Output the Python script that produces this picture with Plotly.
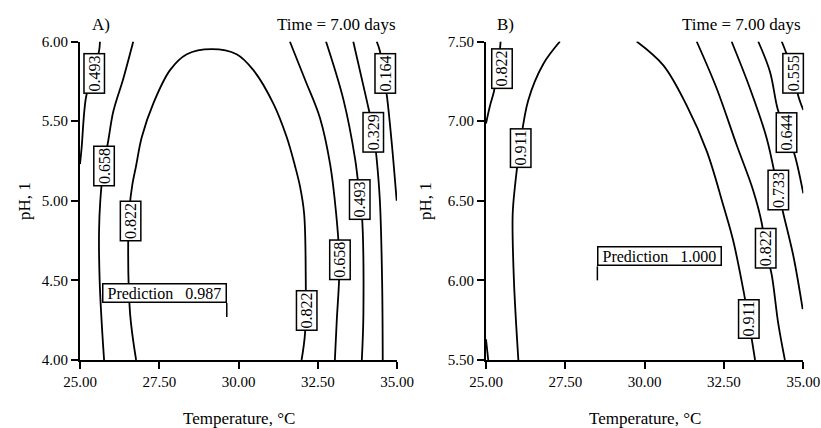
import plotly.graph_objects as go

FONT = "Liberation Serif"

# ---------------- Panel A (pH 4.00-6.00) contour lines: Temperature, pH ----------------
A_0493L_T = [25.63, 25.60, 25.40, 25.19, 25.05, 25.00]
A_0493L_pH = [6.00, 5.94, 5.80, 5.65, 5.33, 5.23]

A_0658L_T = [26.68, 26.37, 26.05, 25.89, 25.75, 25.64, 25.60, 25.62, 25.68, 25.76]
A_0658L_pH = [6.00, 5.77, 5.56, 5.375, 5.22, 5.00, 4.80, 4.50, 4.25, 4.00]

A_0822_T = [26.77, 26.58, 26.52, 26.56, 26.65, 26.77, 26.95, 27.31, 27.84, 28.37, 29.15,
            29.94, 30.47, 31.10, 31.52, 31.78, 31.94, 32.07, 32.12, 32.10, 31.99]
A_0822_pH = [4.00, 4.29, 4.73, 4.95, 5.10, 5.22, 5.40, 5.61, 5.82, 5.92, 5.952,
             5.92, 5.82, 5.61, 5.40, 5.22, 5.09, 4.92, 4.55, 4.17, 4.00]

A_0658R_T = [31.62, 32.10, 32.57, 32.89, 33.08, 33.18, 33.17, 33.10, 33.04]
A_0658R_pH = [6.00, 5.76, 5.52, 5.23, 4.92, 4.64, 4.49, 4.25, 4.00]

A_0493R_T = [32.76, 33.31, 33.68, 33.83, 33.89, 33.94, 33.89]
A_0493R_pH = [6.00, 5.635, 5.26, 5.01, 4.92, 4.29, 4.00]

A_0329_T = [33.62, 34.04, 34.26, 34.36, 34.46, 34.53, 34.55]
A_0329_pH = [6.00, 5.635, 5.43, 5.26, 5.00, 4.50, 4.00]

A_0164_T = [34.36, 34.46, 34.57, 34.68, 34.84, 34.99]
A_0164_pH = [6.00, 5.94, 5.80, 5.66, 5.35, 5.00]

A_lab_text = ["0.493", "0.658", "0.822", "0.822", "0.658", "0.493", "0.329", "0.164"]
A_lab_T = [25.46, 25.75, 26.61, 32.14, 33.19, 33.83, 34.26, 34.64]
A_lab_pH = [5.80, 5.22, 4.87, 4.31, 4.63, 5.01, 5.43, 5.80]

A_pred_T = 29.63
A_pred_pH = 4.27
A_pred_val = "0.987"

# ---------------- Panel B (pH 5.50-7.50) contour lines ----------------
B_0822L_T = [25.46, 25.40, 25.25, 25.13, 25.00]
B_0822L_pH = [7.50, 7.37, 7.186, 7.10, 6.985]

B_0822Lb_T = [25.00, 25.07]
B_0822Lb_pH = [5.63, 5.50]

B_0911L_T = [27.33, 26.81, 26.33, 26.07, 25.91, 25.84, 25.88, 26.02]
B_0911L_pH = [7.50, 7.36, 7.13, 6.84, 6.585, 6.41, 6.00, 5.50]

B_0911R_T = [29.75, 30.59, 31.32, 31.96, 32.48, 32.79, 33.11, 33.27, 33.48]
B_0911R_pH = [7.50, 7.35, 7.10, 6.81, 6.47, 6.25, 5.94, 5.76, 5.50]

B_0822R_T = [31.64, 32.27, 32.90, 33.42, 33.69, 33.80, 34.00, 34.21, 34.42]
B_0822R_pH = [7.50, 7.205, 6.85, 6.565, 6.36, 6.20, 6.04, 5.73, 5.50]

B_0733_T = [32.74, 33.32, 33.85, 34.20, 34.37, 34.69, 34.98]
B_0733_pH = [7.50, 7.205, 6.89, 6.57, 6.42, 6.15, 5.82]

B_0644_T = [33.58, 33.95, 34.20, 34.48, 34.74, 35.00]
B_0644_pH = [7.50, 7.31, 7.07, 6.93, 6.78, 6.546]

B_0555_T = [34.32, 34.43, 34.69, 34.84, 35.00]
B_0555_pH = [7.50, 7.445, 7.30, 7.16, 7.07]

B_lab_text = ["0.822", "0.911", "0.911", "0.822", "0.733", "0.644", "0.555"]
B_lab_T = [25.49, 26.10, 33.27, 33.80, 34.20, 34.48, 34.69]
B_lab_pH = [7.33, 6.83, 5.76, 6.20, 6.57, 6.93, 7.30]

B_pred_T = 28.51
B_pred_pH = 6.00
B_pred_val = "1.000"

# Axes ticks
temp_ticks = [25.0, 27.5, 30.0, 32.5, 35.0]
A_pH_ticks = [4.0, 4.5, 5.0, 5.5, 6.0]
B_pH_ticks = [5.5, 6.0, 6.5, 7.0, 7.5]

title_x = "Temperature, °C"
title_y = "pH, 1"
time_label = "Time = 7.00 days"

fig = go.Figure()

A_lines = [(A_0493L_T, A_0493L_pH), (A_0658L_T, A_0658L_pH), (A_0822_T, A_0822_pH),
           (A_0658R_T, A_0658R_pH), (A_0493R_T, A_0493R_pH), (A_0329_T, A_0329_pH),
           (A_0164_T, A_0164_pH)]
B_lines = [(B_0822L_T, B_0822L_pH), (B_0822Lb_T, B_0822Lb_pH), (B_0911L_T, B_0911L_pH),
           (B_0911R_T, B_0911R_pH), (B_0822R_T, B_0822R_pH), (B_0733_T, B_0733_pH),
           (B_0644_T, B_0644_pH), (B_0555_T, B_0555_pH)]

for xs, ys in A_lines:
    fig.add_trace(go.Scatter(x=xs, y=ys, mode="lines", xaxis="x", yaxis="y",
                             line=dict(color="black", width=1.8, shape="spline", smoothing=1.0),
                             showlegend=False, hoverinfo="skip"))
for xs, ys in B_lines:
    fig.add_trace(go.Scatter(x=xs, y=ys, mode="lines", xaxis="x2", yaxis="y2",
                             line=dict(color="black", width=1.8, shape="spline", smoothing=1.0),
                             showlegend=False, hoverinfo="skip"))

annotations = []
for t, xv, yv in zip(A_lab_text, A_lab_T, A_lab_pH):
    annotations.append(dict(x=xv, y=yv, xref="x", yref="y", text=t, showarrow=False,
                            textangle=-90, bgcolor="white", bordercolor="black",
                            borderwidth=1.5, borderpad=1,
                            font=dict(family=FONT, size=16, color="black")))
for t, xv, yv in zip(B_lab_text, B_lab_T, B_lab_pH):
    annotations.append(dict(x=xv, y=yv, xref="x2", yref="y2", text=t, showarrow=False,
                            textangle=-90, bgcolor="white", bordercolor="black",
                            borderwidth=1.5, borderpad=1,
                            font=dict(family=FONT, size=16, color="black")))

POLE = 14
annotations.append(dict(x=A_pred_T, y=A_pred_pH, xref="x", yref="y",
                        text=" Prediction&nbsp;&nbsp;&nbsp;" + A_pred_val + " ", showarrow=False,
                        xanchor="right", yanchor="bottom", yshift=POLE,
                        bgcolor="white", bordercolor="black", borderwidth=1.5, borderpad=0,
                        font=dict(family=FONT, size=16, color="black")))
annotations.append(dict(x=B_pred_T, y=B_pred_pH, xref="x2", yref="y2",
                        text=" Prediction&nbsp;&nbsp;&nbsp;" + B_pred_val + " ", showarrow=False,
                        xanchor="left", yanchor="bottom", yshift=POLE,
                        bgcolor="white", bordercolor="black", borderwidth=1.5, borderpad=0,
                        font=dict(family=FONT, size=16, color="black")))

shapes = [
    dict(type="line", xref="x", yref="y", ysizemode="pixel", yanchor=A_pred_pH,
         x0=A_pred_T, x1=A_pred_T, y0=0, y1=POLE, line=dict(color="black", width=1.5)),
    dict(type="line", xref="x2", yref="y2", ysizemode="pixel", yanchor=B_pred_pH,
         x0=B_pred_T, x1=B_pred_T, y0=0, y1=POLE, line=dict(color="black", width=1.5)),
]

# panel titles and axis titles
W, H = 821, 428
def px(xp):
    return xp / W
def py(yp):
    return 1 - yp / H

annotations += [
    dict(x=px(101), y=py(24), xref="paper", yref="paper", text="A)", showarrow=False,
         xanchor="center", yanchor="middle", font=dict(family=FONT, size=17, color="black")),
    dict(x=px(398), y=py(24), xref="paper", yref="paper", text=time_label, showarrow=False,
         xanchor="right", yanchor="middle", font=dict(family=FONT, size=17, color="black")),
    dict(x=px(505), y=py(24), xref="paper", yref="paper", text="B)", showarrow=False,
         xanchor="center", yanchor="middle", font=dict(family=FONT, size=17, color="black")),
    dict(x=px(803), y=py(24), xref="paper", yref="paper", text=time_label, showarrow=False,
         xanchor="right", yanchor="middle", font=dict(family=FONT, size=17, color="black")),
    dict(x=px(239), y=py(418), xref="paper", yref="paper", text=title_x, showarrow=False,
         xanchor="center", yanchor="middle", font=dict(family=FONT, size=17, color="black")),
    dict(x=px(645), y=py(418), xref="paper", yref="paper", text=title_x, showarrow=False,
         xanchor="center", yanchor="middle", font=dict(family=FONT, size=17, color="black")),
    dict(x=px(24), y=py(201), xref="paper", yref="paper", text=title_y, showarrow=False,
         textangle=-90, xanchor="center", yanchor="middle",
         font=dict(family=FONT, size=17, color="black")),
    dict(x=px(425), y=py(201), xref="paper", yref="paper", text=title_y, showarrow=False,
         textangle=-90, xanchor="center", yanchor="middle",
         font=dict(family=FONT, size=17, color="black")),
]

ydom = [py(360), py(41.5)]
axis_common = dict(showline=True, linecolor="black", linewidth=2, showgrid=False, zeroline=False,
                   ticks="outside", ticklen=7, tickwidth=1.5, tickcolor="black",
                   tickfont=dict(family=FONT, size=15, color="black"), mirror=False,
                   tickformat=".2f", fixedrange=True, automargin=False)

fig.update_layout(
    width=W, height=H,
    margin=dict(l=0, r=0, t=0, b=0, autoexpand=False),
    paper_bgcolor="white", plot_bgcolor="white",
    xaxis=dict(domain=[px(80), px(397)], range=[25, 35], tickvals=temp_ticks, anchor="y", **axis_common),
    yaxis=dict(domain=ydom, range=[4, 6], tickvals=A_pH_ticks, anchor="x", **axis_common),
    xaxis2=dict(domain=[px(486), px(803.3)], range=[25, 35], tickvals=temp_ticks, anchor="y2", **axis_common),
    yaxis2=dict(domain=ydom, range=[5.5, 7.5], tickvals=B_pH_ticks, anchor="x2", **axis_common),
    annotations=annotations,
    shapes=shapes,
    showlegend=False,
)

fig.write_html("out.html", config={"displayModeBar": False},
               post_script="document.body.style.margin='0';document.body.style.overflow='hidden';")
